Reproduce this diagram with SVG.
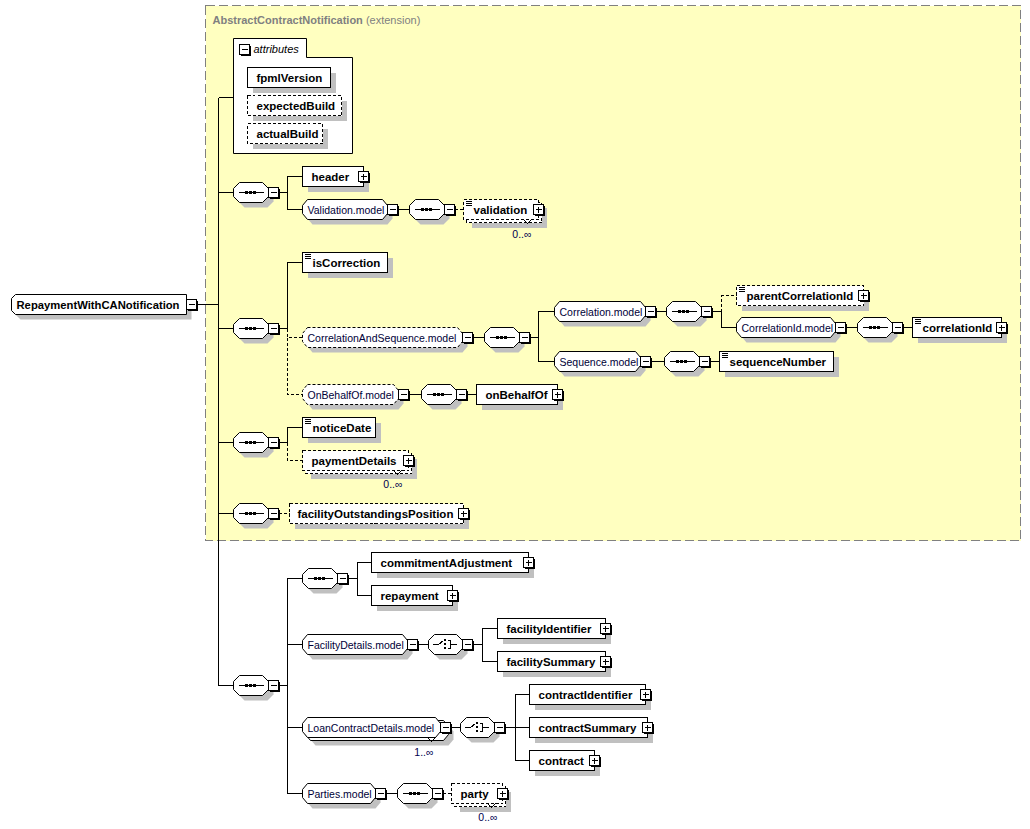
<svg xmlns="http://www.w3.org/2000/svg" xmlns:xlink="http://www.w3.org/1999/xlink" width="1030" height="829" viewBox="0 0 1030 829">
<style>
.b{fill:#fff;stroke:#000;stroke-width:1}
.o{stroke-dasharray:3 2}
.s{fill:#c0c0c0;stroke:none}
.t{font-family:"Liberation Sans",Arial,sans-serif;font-weight:bold;font-size:11.5px;fill:#000}
.m{font-family:"Liberation Sans",Arial,sans-serif;font-size:10.5px;fill:#000038}
.n{font-family:"Liberation Sans",Arial,sans-serif;font-size:10.5px;fill:#000050}
.ln{fill:none;stroke:#000;stroke-width:1}
.dl{stroke-dasharray:3 2}
rect,path{shape-rendering:crispEdges}
</style>
<defs>
<g id="mi"><rect x="1" y="1" width="10" height="10" fill="#000"/><rect x="0" y="0" width="10" height="10" class="b"/><path d="M2,5H8" class="ln"/></g>
<g id="pl"><rect x="1" y="1" width="10" height="10" fill="#000"/><rect x="0" y="0" width="10" height="10" class="b"/><path d="M2,5H8M5,2V8" class="ln"/></g>
<g id="ic"><path d="M2,2H8M2,4H8M2,6H8" class="ln"/></g>
<g id="seq">
<polygon class="s" points="11,5 34,5 40,11 40,19 34,25 11,25 5,19 5,11"/>
<polygon class="b" points="6,0 29,0 35,6 35,14 29,20 6,20 0,14 0,6"/>
<path d="M5,10H30" class="ln"/>
<rect x="11.5" y="8.5" width="3" height="3" fill="#000"/><rect x="15.5" y="8.5" width="3" height="3" fill="#000"/><rect x="19.5" y="8.5" width="3" height="3" fill="#000"/>
<use xlink:href="#mi" x="35" y="5"/>
</g>
<g id="cho">
<polygon class="s" points="11,5 33,5 39,11 39,19 33,25 11,25 5,19 5,11"/>
<polygon class="b" points="6,0 28,0 34,6 34,14 28,20 6,20 0,14 0,6"/>
<path d="M4,10H10L15,6M19,6H22V14H19M22,10H28" class="ln"/>
<rect x="15.5" y="4.5" width="2" height="2" fill="#000"/><rect x="15.5" y="8.5" width="2" height="2" fill="#000"/><rect x="15.5" y="12.5" width="2" height="2" fill="#000"/>
<use xlink:href="#mi" x="34" y="5"/>
</g>
</defs>
<g transform="translate(0.5,0.5)">
<rect x="205" y="5" width="815" height="535" fill="#ffffc0" stroke="#808080" stroke-dasharray="9 4"/>
<text x="212" y="23" font-family="Liberation Sans,Arial,sans-serif" font-size="11px" fill="#808080"><tspan font-weight="bold">AbstractContractNotification</tspan> (extension)</text>

<g id="connectors">
<path class="ln" d="M196,304H218M218,97V685M218,97H233M218,192H233M218,328H233M218,442H233M218,513H233M218,685H233"/>
<path class="ln" d="M278,192H287M287,192V176H302M287,192V209H302M397,209H409"/>
<path class="ln dl" d="M454,209H463"/>
<path class="ln" d="M278,328H287M287,328V262H302M472,337H484M529,337H538M538,337V311H554M538,337V361H554M655,311H666M711,311H721M721,311V327H736M845,327H857M902,327H912M650,361H664M709,361H719M408,394H421M466,394H476"/>
<path class="ln dl" d="M287,328V337H302M287,337V394H302M721,311V295H736"/>
<path class="ln" d="M278,442H287M287,442V427H302"/>
<path class="ln dl" d="M287,442V460H302M278,513H289"/>
<path class="ln" d="M278,685H287M287,685V578H302M287,644H302M287,727H302M287,685V793H302M347,578H357M357,578V562H371M357,578V595H371M417,644H428M472,644H482M482,644V628H497M482,644V661H497M450,727H460M504,727H529M515,727V694H529M515,727V760H529M385,793H397"/>
<path class="ln dl" d="M442,793H451"/>
</g>

<g id="root" transform="translate(11,294)">
<polygon class="s" points="9,5 180,5 180,25 9,25 5,21 5,9"/>
<polygon class="b" points="4,0 175,0 175,20 4,20 0,16 0,4"/>
<text class="t" x="5" y="14" textLength="163" lengthAdjust="spacingAndGlyphs">RepaymentWithCANotification</text>
<use xlink:href="#mi" x="175" y="5"/>
</g>

<g id="attributes">
<polygon class="b" points="233,38 306,38 306,57 352,57 352,153 233,153"/>
<use xlink:href="#mi" x="239" y="44"/>
<text x="253" y="52" font-family="Liberation Sans,Arial,sans-serif" font-size="11px" font-style="italic">attributes</text>
</g>
<g id="fpmlVersion" transform="translate(247,67)"><rect x="5" y="5" width="83" height="20" class="s"/><rect width="83" height="20" class="b"/><text class="t" x="9" y="14">fpmlVersion</text></g>
<g id="expectedBuild" transform="translate(247,95)"><rect x="5" y="5" width="94" height="20" class="s"/><rect width="94" height="20" class="b o"/><text class="t" x="9" y="14">expectedBuild</text></g>
<g id="actualBuild" transform="translate(247,123)"><rect x="5" y="5" width="75" height="20" class="s"/><rect width="75" height="20" class="b o"/><text class="t" x="9" y="14">actualBuild</text></g>

<use id="seq1" xlink:href="#seq" x="233" y="182"/>
<g id="header" transform="translate(302,166)"><rect x="5" y="5" width="61" height="20" class="s"/><rect width="61" height="20" class="b"/><text class="t" x="9" y="14">header</text><use xlink:href="#pl" x="56" y="5"/></g>
<g id="Validation.model" transform="translate(302,199)">
<polygon class="s" points="10,5 85,5 90,11 90,19 85,25 10,25 5,19 5,11"/>
<polygon class="b" points="5,0 80,0 85,6 85,14 80,20 5,20 0,14 0,6"/>
<text class="m" x="5" y="14">Validation.model</text><use xlink:href="#mi" x="85" y="5"/></g>
<use id="seqVal" xlink:href="#seq" x="409" y="199"/>
<g id="validation" transform="translate(463,199)"><rect x="8" y="8" width="75" height="20" class="s"/><rect x="3" y="3" width="75" height="20" class="b o"/><rect width="75" height="20" class="b o"/><use xlink:href="#ic"/><text class="t" x="10" y="14">validation</text><use xlink:href="#pl" x="70" y="5"/><path d="M60,20L64,24L68,20" class="ln"/><text class="n" x="68" y="38" text-anchor="end">0..∞</text></g>

<use id="seq2" xlink:href="#seq" x="233" y="318"/>
<g id="isCorrection" transform="translate(302,252)"><rect x="5" y="5" width="85" height="20" class="s"/><rect width="85" height="20" class="b"/><use xlink:href="#ic"/><text class="t" x="10" y="14">isCorrection</text></g>
<g id="CorrelationAndSequence.model" transform="translate(302,327)">
<polygon class="s" points="10,5 160,5 165,11 165,19 160,25 10,25 5,19 5,11"/>
<polygon class="b o" points="5,0 155,0 160,6 160,14 155,20 5,20 0,14 0,6"/>
<text class="m" x="5" y="14">CorrelationAndSequence.model</text><use xlink:href="#mi" x="160" y="5"/></g>
<use id="seqCS" xlink:href="#seq" x="484" y="327"/>
<g id="Correlation.model" transform="translate(554,301)">
<polygon class="s" points="10,5 91,5 96,11 96,19 91,25 10,25 5,19 5,11"/>
<polygon class="b" points="5,0 86,0 91,6 91,14 86,20 5,20 0,14 0,6"/>
<text class="m" x="5" y="14">Correlation.model</text><use xlink:href="#mi" x="91" y="5"/></g>
<use id="seqCorr" xlink:href="#seq" x="666" y="301"/>
<g id="parentCorrelationId" transform="translate(736,285)"><rect x="5" y="5" width="127" height="20" class="s"/><rect width="127" height="20" class="b o"/><use xlink:href="#ic"/><text class="t" x="10" y="14">parentCorrelationId</text><use xlink:href="#pl" x="122" y="5"/></g>
<g id="CorrelationId.model" transform="translate(736,317)">
<polygon class="s" points="10,5 99,5 104,11 104,19 99,25 10,25 5,19 5,11"/>
<polygon class="b" points="5,0 94,0 99,6 99,14 94,20 5,20 0,14 0,6"/>
<text class="m" x="5" y="14">CorrelationId.model</text><use xlink:href="#mi" x="99" y="5"/></g>
<use id="seqCorrId" xlink:href="#seq" x="857" y="317"/>
<g id="correlationId" transform="translate(912,317)"><rect x="5" y="5" width="89" height="20" class="s"/><rect width="89" height="20" class="b"/><use xlink:href="#ic"/><text class="t" x="10" y="14">correlationId</text><use xlink:href="#pl" x="84" y="5"/></g>
<g id="Sequence.model" transform="translate(554,351)">
<polygon class="s" points="10,5 86,5 91,11 91,19 86,25 10,25 5,19 5,11"/>
<polygon class="b" points="5,0 81,0 86,6 86,14 81,20 5,20 0,14 0,6"/>
<text class="m" x="5" y="14">Sequence.model</text><use xlink:href="#mi" x="86" y="5"/></g>
<use id="seqSeq" xlink:href="#seq" x="664" y="351"/>
<g id="sequenceNumber" transform="translate(719,351)"><rect x="5" y="5" width="114" height="20" class="s"/><rect width="114" height="20" class="b"/><use xlink:href="#ic"/><text class="t" x="10" y="14">sequenceNumber</text></g>
<g id="OnBehalfOf.model" transform="translate(302,384)">
<polygon class="s" points="10,5 96,5 101,11 101,19 96,25 10,25 5,19 5,11"/>
<polygon class="b o" points="5,0 91,0 96,6 96,14 91,20 5,20 0,14 0,6"/>
<text class="m" x="5" y="14">OnBehalfOf.model</text><use xlink:href="#mi" x="96" y="5"/></g>
<use id="seqOBO" xlink:href="#seq" x="421" y="384"/>
<g id="onBehalfOf" transform="translate(476,384)"><rect x="5" y="5" width="81" height="20" class="s"/><rect width="81" height="20" class="b"/><text class="t" x="9" y="14">onBehalfOf</text><use xlink:href="#pl" x="76" y="5"/></g>

<use id="seq3" xlink:href="#seq" x="233" y="432"/>
<g id="noticeDate" transform="translate(302,417)"><rect x="5" y="5" width="73" height="20" class="s"/><rect width="73" height="20" class="b"/><use xlink:href="#ic"/><text class="t" x="10" y="14">noticeDate</text></g>
<g id="paymentDetails" transform="translate(302,450)"><rect x="8" y="8" width="106" height="20" class="s"/><rect x="3" y="3" width="106" height="20" class="b o"/><rect width="106" height="20" class="b o"/><text class="t" x="9" y="14">paymentDetails</text><use xlink:href="#pl" x="101" y="5"/><path d="M91,20L95,24L99,20" class="ln"/><text class="n" x="100" y="37" text-anchor="end">0..∞</text></g>

<use id="seq4" xlink:href="#seq" x="233" y="503"/>
<g id="facilityOutstandingsPosition" transform="translate(289,503)"><rect x="5" y="5" width="174" height="20" class="s"/><rect width="174" height="20" class="b o"/><text class="t" x="8" y="14">facilityOutstandingsPosition</text><use xlink:href="#pl" x="169" y="5"/></g>

<use id="seq5" xlink:href="#seq" x="233" y="675"/>
<use id="seq5a" xlink:href="#seq" x="302" y="568"/>
<g id="commitmentAdjustment" transform="translate(371,552)"><rect x="5" y="5" width="157" height="20" class="s"/><rect width="157" height="20" class="b"/><text class="t" x="9" y="14">commitmentAdjustment</text><use xlink:href="#pl" x="152" y="5"/></g>
<g id="repayment" transform="translate(371,585)"><rect x="5" y="5" width="81" height="20" class="s"/><rect width="81" height="20" class="b"/><text class="t" x="9" y="14">repayment</text><use xlink:href="#pl" x="76" y="5"/></g>
<g id="FacilityDetails.model" transform="translate(302,634)">
<polygon class="s" points="10,5 105,5 110,11 110,19 105,25 10,25 5,19 5,11"/>
<polygon class="b" points="5,0 100,0 105,6 105,14 100,20 5,20 0,14 0,6"/>
<text class="m" x="5" y="14">FacilityDetails.model</text><use xlink:href="#mi" x="105" y="5"/></g>
<use id="choice1" xlink:href="#cho" x="428" y="634"/>
<g id="facilityIdentifier" transform="translate(497,618)"><rect x="5" y="5" width="108" height="20" class="s"/><rect width="108" height="20" class="b"/><text class="t" x="9" y="14">facilityIdentifier</text><use xlink:href="#pl" x="103" y="5"/></g>
<g id="facilitySummary" transform="translate(497,651)"><rect x="5" y="5" width="108" height="20" class="s"/><rect width="108" height="20" class="b"/><text class="t" x="9" y="14">facilitySummary</text><use xlink:href="#pl" x="103" y="5"/></g>
<g id="LoanContractDetails.model" transform="translate(302,717)">
<polygon class="s" points="13,8 146,8 151,14 151,22 146,28 13,28 8,22 8,14"/>
<polygon class="b" points="8,3 141,3 146,9 146,17 141,23 8,23 3,17 3,9"/>
<polygon class="b" points="5,0 133,0 138,6 138,14 133,20 5,20 0,14 0,6"/>
<text class="m" x="5" y="14">LoanContractDetails.model</text><use xlink:href="#mi" x="138" y="5"/>
<path d="M125,20L129,24L133,20" class="ln"/><text class="n" x="131" y="38" text-anchor="end">1..∞</text></g>
<use id="choice2" xlink:href="#cho" x="460" y="717"/>
<g id="contractIdentifier" transform="translate(529,684)"><rect x="5" y="5" width="116" height="20" class="s"/><rect width="116" height="20" class="b"/><text class="t" x="9" y="14">contractIdentifier</text><use xlink:href="#pl" x="111" y="5"/></g>
<g id="contractSummary" transform="translate(529,717)"><rect x="5" y="5" width="118" height="20" class="s"/><rect width="118" height="20" class="b"/><text class="t" x="9" y="14">contractSummary</text><use xlink:href="#pl" x="113" y="5"/></g>
<g id="contract" transform="translate(529,750)"><rect x="5" y="5" width="65" height="20" class="s"/><rect width="65" height="20" class="b"/><text class="t" x="9" y="14">contract</text><use xlink:href="#pl" x="60" y="5"/></g>
<g id="Parties.model" transform="translate(302,783)">
<polygon class="s" points="10,5 73,5 78,11 78,19 73,25 10,25 5,19 5,11"/>
<polygon class="b" points="5,0 68,0 73,6 73,14 68,20 5,20 0,14 0,6"/>
<text class="m" x="5" y="14">Parties.model</text><use xlink:href="#mi" x="73" y="5"/></g>
<use id="seqParties" xlink:href="#seq" x="397" y="783"/>
<g id="party" transform="translate(451,783)"><rect x="8" y="8" width="51" height="20" class="s"/><rect x="3" y="3" width="51" height="20" class="b o"/><rect width="51" height="20" class="b o"/><text class="t" x="9" y="14">party</text><use xlink:href="#pl" x="46" y="5"/><path d="M36,20L40,24L44,20" class="ln"/><text class="n" x="46" y="37" text-anchor="end">0..∞</text></g>
</g>
</svg>
